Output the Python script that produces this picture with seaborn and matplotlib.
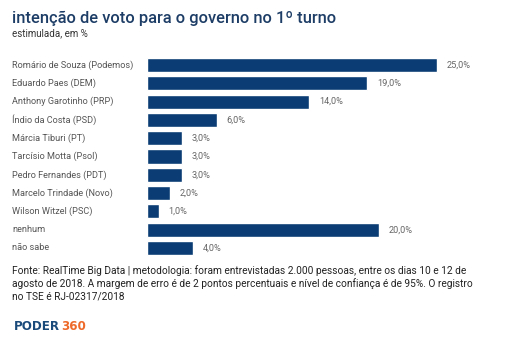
import matplotlib
matplotlib.use("Agg")
import matplotlib.pyplot as plt
import seaborn as sns
import pandas as pd
import matplotlib.transforms as mtrans

categories = ["Romário de Souza (Podemos)", "Eduardo Paes (DEM)", "Anthony Garotinho (PRP)",
              "Índio da Costa (PSD)", "Márcia Tiburi (PT)", "Tarcísio Motta (Psol)",
              "Pedro Fernandes (PDT)", "Marcelo Trindade (Novo)", "Wilson Witzel (PSC)",
              "nenhum", "não sabe"]
values = [25.0, 19.0, 14.0, 6.0, 3.0, 3.0, 3.0, 2.0, 1.0, 20.0, 4.0]

title = "intenção de voto para o governo no 1º turno"
subtitle = "estimulada, em %"
source = ("Fonte: RealTime Big Data | metodologia: foram entrevistadas 2.000 pessoas, entre os dias 10 e 12 de\n"
          "agosto de 2018. A margem de erro é de 2 pontos percentuais e nível de confiança é de 95%. O registro\n"
          "no TSE é RJ-02317/2018")

sns.set_style("white")
plt.rcParams['font.family'] = ['Roboto', 'DejaVu Sans']

W, H = 527, 340
fig = plt.figure(figsize=(W / 100, H / 100), dpi=100)
ax = fig.add_axes([147 / W, 0.2437, 348 / W, 0.8357 - 0.2437])

df = pd.DataFrame({"cat": categories, "val": values})
bar_color = "#0b3c74"
sns.barplot(data=df, x="val", y="cat", orient="h", color=bar_color, width=0.77,
            saturation=1, ax=ax)
ax.set_xlim(0, 30)
ax.set_ylim(len(categories) - 0.5, -0.5)
ax.set_xlabel("")
ax.set_ylabel("")
ax.set_xticks([])
ax.set_yticks([])
for s in ax.spines.values():
    s.set_visible(False)

trans = mtrans.blended_transform_factory(fig.transFigure, ax.transData)
for i, (c, v) in enumerate(zip(categories, values)):
    ax.text(12 / W, i, c, transform=trans, ha="left", va="center",
            fontsize=6.6, color="#555555")
    ax.annotate(f"{v:.1f}".replace(".", ",") + "%", xy=(v, i), xytext=(7, 0),
                textcoords="offset points", ha="left", va="center",
                fontsize=6.6, color="#666666")

fig.text(12 / W, 1 - 18 / H, title, ha="left", va="center", fontsize=11.9,
         color="#1d3d66", fontweight="medium")
fig.text(12 / W, 1 - 33 / H, subtitle, ha="left", va="center", fontsize=7,
         color="#333333")
fig.text(12 / W, 1 - 265 / H, source, ha="left", va="top", fontsize=7.3,
         color="#222222", linespacing=1.25)

p = fig.text(14 / W, 1 - 327 / H, "PODER", ha="left", va="center", fontsize=8.6,
             fontweight="bold", color="#1a4a7a", family=["DejaVu Sans"])
fig.canvas.draw()
bb = p.get_window_extent()
fig.text(bb.x1 / W + 1 / W, 1 - 327 / H, "360", ha="left", va="center", fontsize=8.6,
         fontweight="bold", color="#ee6a2a", family=["DejaVu Sans"])

fig.savefig("out.png", dpi=100)
